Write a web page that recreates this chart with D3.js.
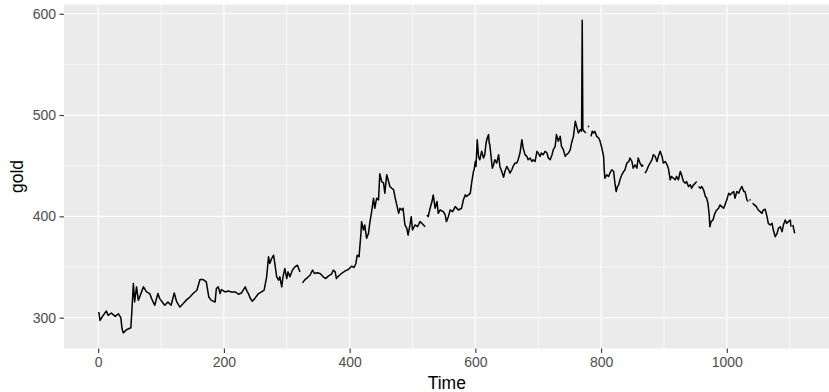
<!DOCTYPE html>
<html>
<head>
<meta charset="utf-8">
<script src="https://cdn.jsdelivr.net/npm/d3@7"></script>
<style>
  html, body { margin: 0; padding: 0; background: #ffffff; }
  svg { display: block; }
  text { font-family: "Liberation Sans", Arial, Helvetica, sans-serif; }
</style>
</head>
<body>
<svg id="chart" width="829" height="392"></svg>
<script>
// Time index (day number) and morning gold price; null marks a missing value (gap in the line)
const times = [
  1,3,8,13,16,21,27,32,36,38,40,45,52,54,56,58,61,64,66,72,77,82,85,90,95,98,104,106,111,116,121,125,130,135,141,146,151,157,162,167,172,176,180,
  186,188,191,194,196,202,207,212,218,223,228,234,236,239,241,245,249,255,260,264,268,271,273,276,279,281,284,287,289,292,294,297,300,302,305,309,313,317,321,
  323,
  325,329,333,337,341,344,348,353,358,362,366,371,374,377,379,382,387,393,398,403,407,410,412,415,418,419,422,424,427,430,432,435,438,440,443,446,448,451,454,456,459,462,464,467,470,472,475,478,480,483,485,488,491,493,496,498,500,504,508,512,516,520,
  521,
  523,525,528,531,533,536,539,541,544,549,552,554,557,560,564,568,573,578,581,584,586,589,592,594,597,598,600,601,603,605,607,610,613,615,617,619,621,622,623,625,627,629,631,634,637,639,642,645,647,650,653,655,658,660,663,666,668,671,674,676,679,682,684,687,690,692,695,698,700,703,705,708,711,714,716,719,722,724,727,729,732,735,737,740,743,745,748,751,753,756,759,761,764,767,769,770,771,773,776,
  778,
  779,781,
  782,
  784,786,788,790,793,796,798,801,804,805,806,809,812,814,817,820,822,824,826,828,830,833,836,838,841,844,846,849,851,854,857,859,862,865,867,
  868,
  870,873,875,878,881,883,886,889,891,894,897,899,902,905,907,910,912,915,918,920,923,926,928,931,934,936,939,942,944,947,950,952,
  953,
  955,958,960,963,966,968,970,972,973,975,978,981,984,987,989,992,995,997,1000,1003,1005,1008,1011,1013,1016,1019,1021,1024,1027,1029,1032,1034,
  1035,
  1036,1038,
  1039,
  1041,1044,1047,1050,1053,1056,1058,1061,1064,1066,1069,1072,1074,1077,1080,1082,1085,1088,1090,1093,1095,1098,1101,1102,
  1103,
  1105,1108
];
const gold = [
  305.6,297.3,302.3,306.6,302.3,304.6,301.3,303.9,300.0,289.1,285.0,288.1,290.1,310.5,333.7,315.5,330.4,317.1,320.4,330.4,325.4,323.8,318.8,312.2,323.8,318.8,313.8,312.2,315.5,312.2,324.4,315.5,310.5,313.8,317.8,320.4,323.8,327.1,337.6,337.6,335.3,320.4,317.1,
  315.5,328.7,330.4,323.8,327.7,325.4,326.4,325.4,325.4,323.1,324.4,330.4,327.1,323.8,320.4,316.2,318.8,323.8,325.4,327.1,340.3,360.1,353.5,358.4,361.7,353.5,340.3,337.0,340.3,330.4,340.3,348.5,338.6,345.2,340.3,346.9,350.2,351.8,345.2,
  null,
  334.3,337.6,339.6,341.9,346.9,343.6,344.3,343.6,340.3,338.6,341.0,342.9,346.9,345.2,338.6,340.9,343.6,346.2,347.5,350.8,349.5,353.5,361.7,360.1,383.2,394.8,386.5,391.5,378.3,383.2,393.1,404.7,417.9,408.0,417.9,416.3,442.0,434.4,432.8,422.9,441.0,434.4,429.5,427.8,426.2,419.6,411.3,403.0,408.0,406.3,408.0,391.5,388.2,381.6,391.5,399.7,386.5,391.5,389.8,394.8,392.5,389.8,
  null,
  401.4,399.7,408.0,414.6,421.2,408.0,414.6,403.0,406.3,404.7,401.4,394.8,399.7,406.3,404.7,409.6,406.3,408.0,416.3,421.2,419.6,421.2,422.9,432.8,444.3,446.0,454.2,449.3,475.7,459.2,455.9,464.2,457.6,460.9,472.4,477.4,480.7,472.4,470.8,459.2,447.6,450.9,455.9,452.6,460.9,449.3,444.3,438.7,444.3,449.3,446.0,442.7,446.0,449.3,452.6,452.6,455.9,462.5,475.7,467.5,460.9,459.2,455.9,457.6,454.2,455.9,454.2,464.2,462.5,459.2,462.5,460.9,464.2,462.5,457.6,455.9,460.9,465.8,469.1,480.7,474.1,479.0,469.1,465.8,459.2,460.9,462.5,465.8,472.4,479.0,493.9,488.9,482.3,485.6,484.0,593.7,486.0,484.0,482.3,
  null,
  489.0,488.5,
  null,
  479.0,484.0,482.3,484.0,479.0,477.4,475.0,468.0,459.2,446.0,437.7,441.0,439.4,442.7,446.0,444.3,432.8,424.5,429.5,431.1,436.1,441.0,444.3,446.0,452.6,454.2,457.6,454.2,447.6,450.9,447.6,457.6,452.6,449.3,450.9,
  null,
  442.7,446.0,449.3,452.6,455.9,460.9,459.2,454.2,459.2,464.2,459.2,452.6,454.2,450.9,447.6,436.1,439.4,437.7,436.1,439.4,436.1,444.3,441.0,434.4,432.8,434.4,429.5,431.1,427.8,431.1,432.8,434.4,
  null,
  429.5,427.8,429.5,426.2,419.6,417.9,413.0,401.4,389.8,394.8,396.4,403.0,406.3,408.0,411.3,409.6,408.0,411.3,416.3,422.9,421.2,422.9,424.5,417.9,424.5,422.9,426.2,429.5,424.5,424.5,416.3,414.6,
  null,
  416.5,416.0,
  null,
  413.0,411.3,409.6,406.3,404.7,403.0,406.3,407.0,399.7,393.1,391.5,393.1,386.5,379.9,383.2,388.2,389.8,384.9,391.5,396.4,393.1,394.8,396.4,389.8,
  null,
  391.5,383.2
];
const xTicks = [0, 200, 400, 600, 800, 1000];
const xMinor = [100, 300, 500, 700, 900, 1100];
const yTicks = [300, 400, 500, 600];
const yMinor = [350, 450, 550];
const xTitle = "Time";
const yTitle = "gold";

const data = times.map((t, i) => ({ t: t, v: gold[i] }));

const W = 829, H = 392;
const panel = { left: 64, right: 829.5, top: 4.5, bottom: 348.5 };

const svg = d3.select("#chart");

// ggplot-style 5% expansion of the data range
const tExt = d3.extent(times);
const vExt = d3.extent(gold.filter(v => v != null));
const tPad = (tExt[1] - tExt[0]) * 0.05;
const vPad = (vExt[1] - vExt[0]) * 0.05;

const x = d3.scaleLinear().domain([tExt[0] - tPad, tExt[1] + tPad]).range([panel.left, panel.right]);
const y = d3.scaleLinear().domain([vExt[0] - vPad, vExt[1] + vPad]).range([panel.bottom, panel.top]);

// panel background
svg.append("rect")
  .attr("x", panel.left).attr("y", panel.top)
  .attr("width", panel.right - panel.left).attr("height", panel.bottom - panel.top)
  .attr("fill", "#EBEBEB");

const grid = svg.append("g");
// minor gridlines
grid.selectAll("line.ymin").data(yMinor).enter().append("line")
  .attr("x1", panel.left).attr("x2", panel.right)
  .attr("y1", d => y(d)).attr("y2", d => y(d))
  .attr("stroke", "#ffffff").attr("stroke-width", 0.6);
grid.selectAll("line.xmin").data(xMinor).enter().append("line")
  .attr("y1", panel.top).attr("y2", panel.bottom)
  .attr("x1", d => x(d)).attr("x2", d => x(d))
  .attr("stroke", "#ffffff").attr("stroke-width", 0.6);
// major gridlines
grid.selectAll("line.ymaj").data(yTicks).enter().append("line")
  .attr("x1", panel.left).attr("x2", panel.right)
  .attr("y1", d => y(d)).attr("y2", d => y(d))
  .attr("stroke", "#ffffff").attr("stroke-width", 1.2);
grid.selectAll("line.xmaj").data(xTicks).enter().append("line")
  .attr("y1", panel.top).attr("y2", panel.bottom)
  .attr("x1", d => x(d)).attr("x2", d => x(d))
  .attr("stroke", "#ffffff").attr("stroke-width", 1.2);

// series line
const line = d3.line()
  .defined(d => d.v != null)
  .x(d => x(d.t))
  .y(d => y(d.v));

svg.append("path")
  .datum(data)
  .attr("d", line)
  .attr("fill", "none")
  .attr("stroke", "#000000")
  .attr("stroke-width", 1.5)
  .attr("stroke-linejoin", "round")
  .attr("stroke-linecap", "butt");

// axes
const xAxis = d3.axisBottom(x).tickValues(xTicks).tickSize(4.5).tickPadding(4).tickFormat(d3.format("d"));
const yAxis = d3.axisLeft(y).tickValues(yTicks).tickSize(4.5).tickPadding(3.5).tickFormat(d3.format("d"));

const gx = svg.append("g").attr("transform", `translate(0,${panel.bottom})`).call(xAxis);
const gy = svg.append("g").attr("transform", `translate(${panel.left},0)`).call(yAxis);

[gx, gy].forEach(g => {
  g.select(".domain").remove();
  g.selectAll(".tick line").attr("stroke", "#333333").attr("stroke-width", 1.1);
  g.selectAll(".tick text")
    .attr("fill", "#4D4D4D")
    .style("font-size", "14px")
    .style("font-family", "'Liberation Sans', Arial, Helvetica, sans-serif");
});

// axis titles
svg.append("text")
  .attr("x", (panel.left + panel.right) / 2)
  .attr("y", 388.5)
  .attr("text-anchor", "middle")
  .attr("fill", "#000000")
  .style("font-size", "17.5px")
  .text(xTitle);

svg.append("text")
  .attr("transform", `translate(22.5,${(panel.top + panel.bottom) / 2}) rotate(-90)`)
  .attr("text-anchor", "middle")
  .attr("fill", "#000000")
  .style("font-size", "17.5px")
  .text(yTitle);
</script>
</body>
</html>
